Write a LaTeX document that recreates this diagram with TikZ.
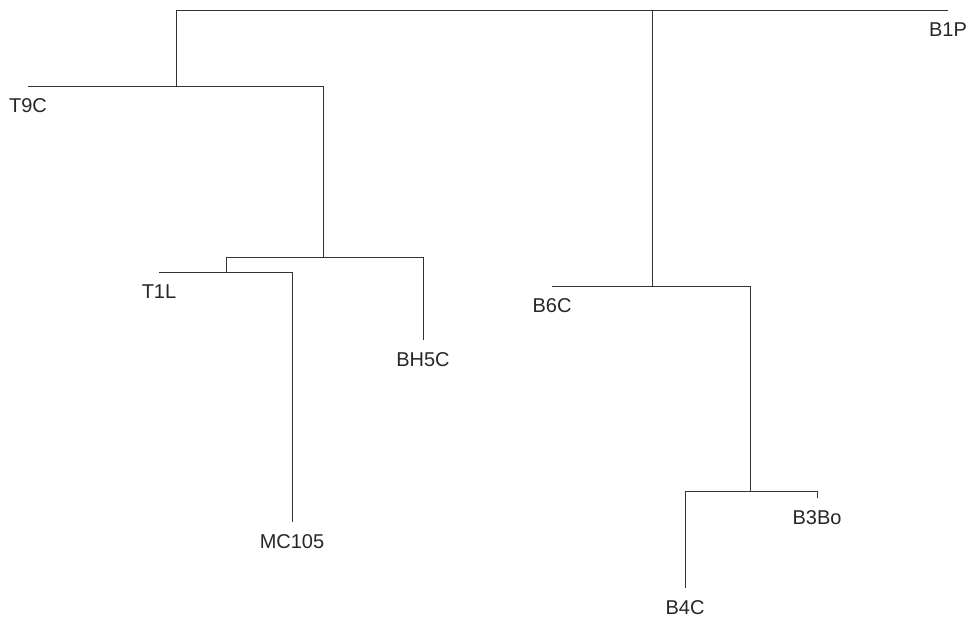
\documentclass[tikz,border=0pt]{standalone}
\usepackage{fontspec}
\setmainfont{Liberation Sans}
\usetikzlibrary{positioning}
\tikzset{
  tip/.style={inner sep=0pt, minimum size=0pt},
  taxon/.style={font=\fontsize{20}{24}\selectfont, inner sep=0pt, text=black!85},
  branch/.style={draw=black!80, line width=0.9pt},
  every label/.style={taxon},
  label distance=12pt
}

\begin{document}
\begin{tikzpicture}[x=1pt, y=-1pt]
  \useasboundingbox (0,0) rectangle (969,617);

  % tips, each with its name underneath
  \node[tip, label=below:B1P]   (B1P)   at (948,10)  {};
  \node[tip, label=below:T9C]   (T9C)   at (28,86)   {};
  \node[tip, label=below:T1L]   (T1L)   at (159,272) {};
  \node[tip, label=below:BH5C]  (BH5C)  at (423,340) {};
  \node[tip, label=below:MC105] (MC105) at (292,522) {};
  \node[tip, label=below:B6C]   (B6C)   at (552,286) {};
  \node[tip, label=below:B3Bo]  (B3Bo)  at (817,498) {};
  \node[tip, label=below:B4C]   (B4C)   at (685,588) {};

  % joints
  \coordinate (leftDrop)  at (176,86);
  \coordinate (rightTop)  at (652,10);
  \coordinate (rightDrop) at (652,286);
  \coordinate (innerL)    at (226,257);
  \coordinate (innerR)    at (323,257);
  \coordinate (lowDrop)   at (750,491);
  \coordinate (lowR)      at (817,491);

  % branches
  \draw[branch] (B1P) -| (leftDrop);
  \draw[branch] (rightTop) -- (rightDrop);
  \draw[branch] (T9C) -| (innerR);
  \draw[branch] (innerL) -| (BH5C);
  \draw[branch] (innerL) -- (innerL |- T1L);
  \draw[branch] (T1L) -| (MC105);
  \draw[branch] (B6C) -| (lowDrop);
  \draw[branch] (B4C) |- (lowR) -- (B3Bo);
\end{tikzpicture}
\end{document}
